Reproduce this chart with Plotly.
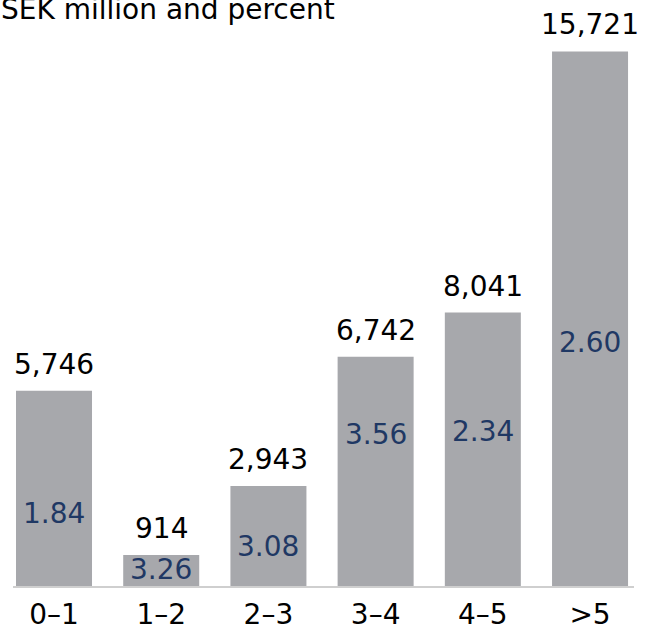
import plotly.graph_objects as go

# Maturity buckets (years), volume in SEK million and average rate in percent
buckets = ["0\u20131", "1\u20132", "2\u20133", "3\u20134", "4\u20135", ">5"]
volume_sek_m = [5746, 914, 2943, 6742, 8041, 15721]
rate_pct = [1.84, 3.26, 3.08, 3.56, 2.34, 2.60]

# Height of each percent label, as a share of its bar
rate_label_share = [0.371, 0.547, 0.395, 0.661, 0.565, 0.455]

FONT = "DejaVu Sans, Verdana, sans-serif"
FS = 28
BAR_COLOR = "#a7a8ac"
NAVY = "#1f3864"
W, H = 656, 632
ML, MR, MT, MB = 13, 22, 20, 46

fig = go.Figure(
    go.Bar(
        x=buckets,
        y=volume_sek_m,
        marker=dict(color=BAR_COLOR, line=dict(width=0)),
        hoverinfo="skip",
    )
)

annotations = []
for b, v, r, s in zip(buckets, volume_sek_m, rate_pct, rate_label_share):
    # volume above the bar
    annotations.append(dict(
        x=b, y=v, xref="x", yref="y", text=f"{v:,}", showarrow=False,
        yanchor="bottom", yshift=8, font=dict(family=FONT, size=FS, color="#000000"),
    ))
    # rate inside the bar
    annotations.append(dict(
        x=b, y=v * s, xref="x", yref="y", text=f"{r:.2f}", showarrow=False,
        yanchor="middle", font=dict(family=FONT, size=FS, color=NAVY),
    ))

# Unit caption in the top-left corner, right edge 337 px from the left of the page
annotations.append(dict(
    x=(337 - ML) / (W - ML - MR), y=1, xref="paper", yref="paper",
    text="SEK million and percent", showarrow=False,
    xanchor="right", yanchor="bottom", yshift=-8,
    font=dict(family=FONT, size=FS, color="#000000"),
))

fig.update_layout(
    width=W,
    height=H,
    margin=dict(l=ML, r=MR, t=MT, b=MB, autoexpand=False),
    paper_bgcolor="white",
    plot_bgcolor="white",
    showlegend=False,
    bargap=0.291,
    annotations=annotations,
    xaxis=dict(
        type="category",
        range=[-0.3825, 5.41],
        showgrid=False,
        zeroline=False,
        showline=True,
        linecolor="#cfcfcf",
        linewidth=1.5,
        ticks="",
        ticklabelstandoff=3,
        tickfont=dict(family=FONT, size=FS, color="#000000"),
    ),
    yaxis=dict(
        range=[0, 16647],
        visible=False,
        showgrid=False,
        zeroline=False,
    ),
)

fig.write_html("out.html")
